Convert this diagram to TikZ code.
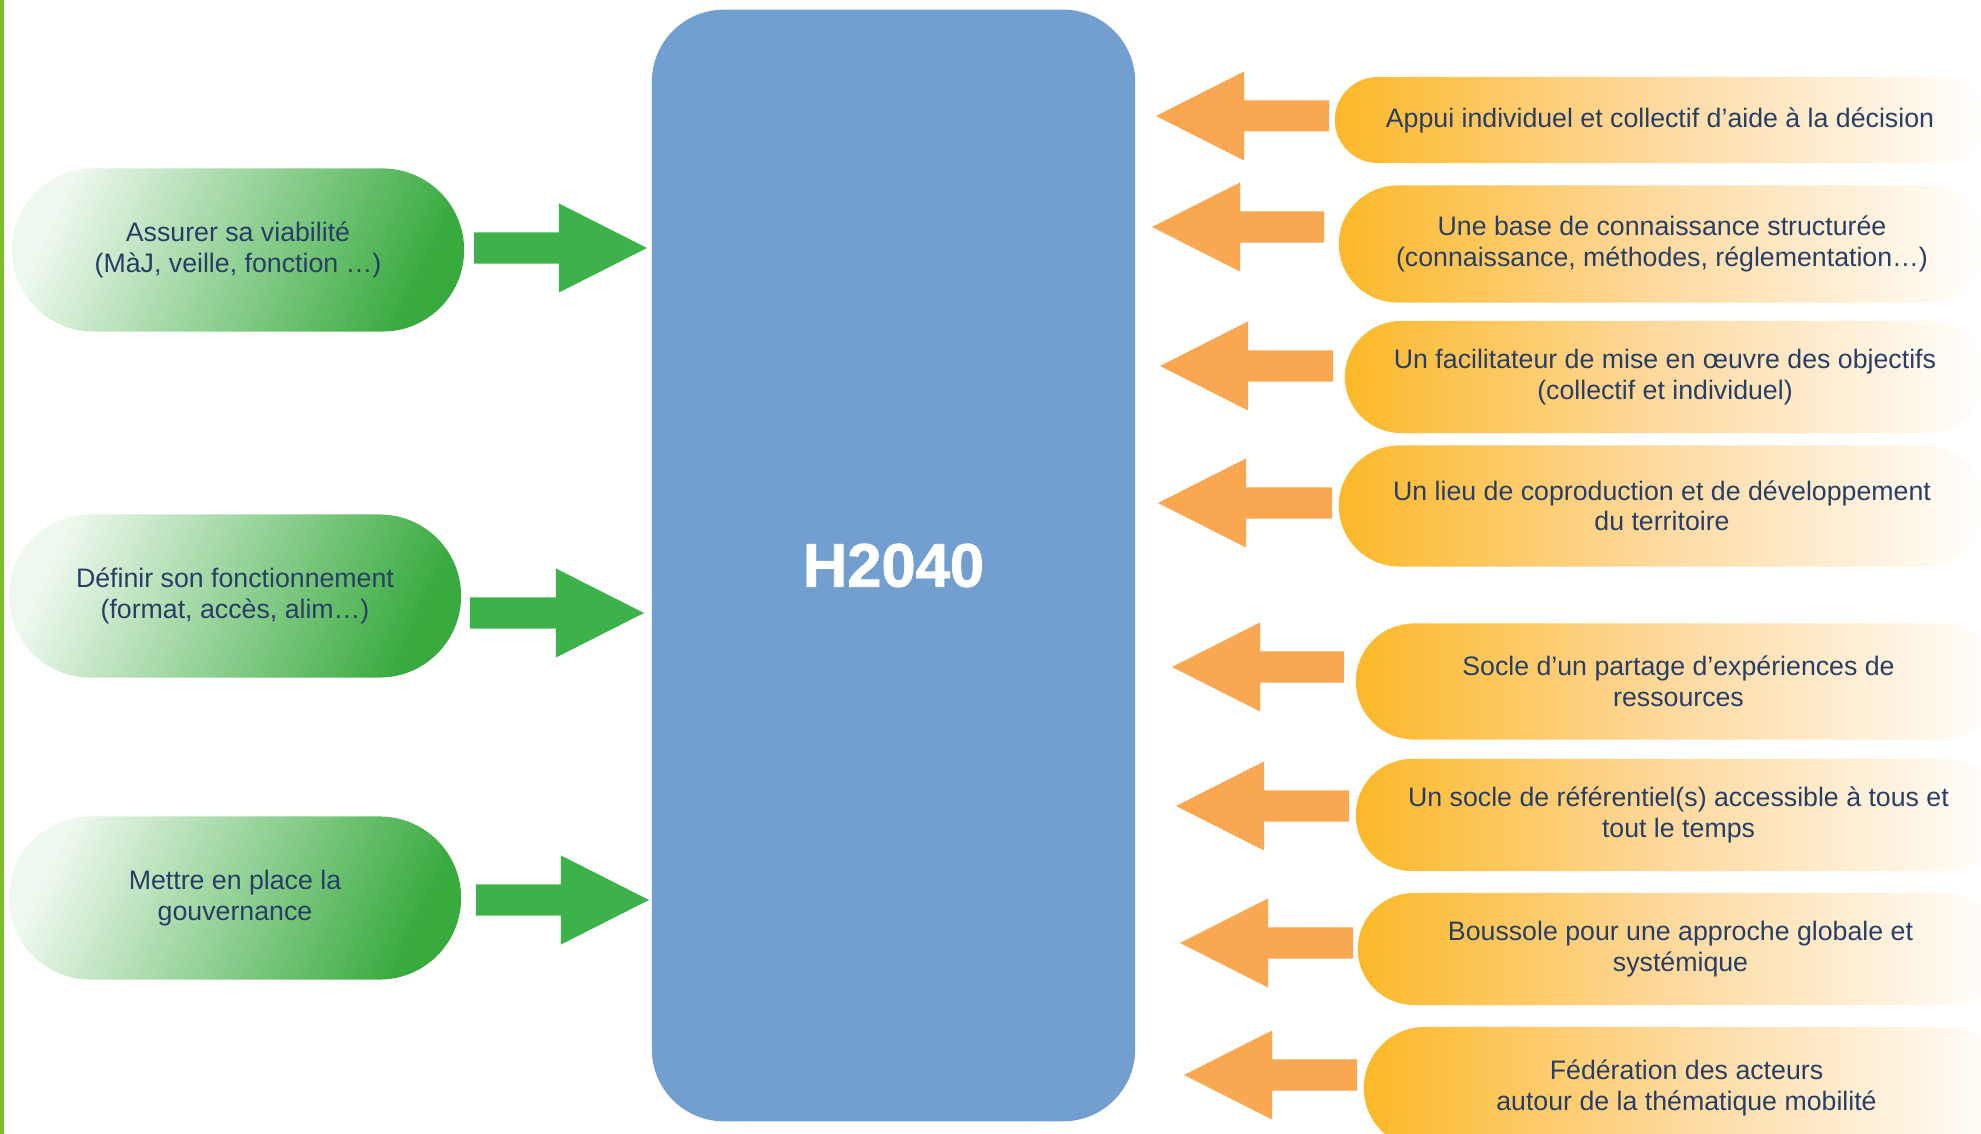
\documentclass[tikz,border=0pt]{standalone}
\usepackage{fontspec}
\setmainfont{Liberation Sans}
\newfontfamily\hubfont[FakeBold=1.3]{Liberation Sans}
\usetikzlibrary{shapes.misc,calc}
\definecolor{hubblue}{RGB}{114,159,207}
\definecolor{grnD}{RGB}{56,170,62}
\definecolor{grnL}{RGB}{238,248,238}
\definecolor{grnA}{RGB}{62,178,74}
\definecolor{orgA}{RGB}{250,167,82}
\definecolor{orgL}{RGB}{252,184,40}
\definecolor{orgM}{RGB}{253,218,160}
\definecolor{txtblue}{RGB}{40,62,100}
\definecolor{edgegreen}{RGB}{124,187,43}
\newlength\arSh \setlength\arSh{0.155cm}
\newlength\arHh \setlength\arHh{0.445cm}
\newlength\arHl \setlength\arHl{0.88cm}
\newcommand\barrow[3]{%
  \fill[#1] let \p1=(#2), \p2=(#3), \n2={\x2-sign(\x2-\x1)*\arHl} in
    (\x1,{\y1+\arSh}) -- ({\n2},{\y1+\arSh}) -- ({\n2},{\y1+\arHh})
    -- (\x2,\y1) -- ({\n2},{\y1-\arHh}) -- ({\n2},{\y1-\arSh})
    -- (\x1,{\y1-\arSh}) -- cycle;}
\begin{document}
\begin{tikzpicture}[x=0.01cm,y=-0.01cm,
  pilltext/.style={font=\fontsize{7.6}{8.7}\selectfont, text=txtblue, align=center},
  greenpill/.style={rounded rectangle, pilltext, inner sep=0pt,
    minimum width=4.52cm, minimum height=1.63cm,
    left color=grnL, right color=grnD, shading angle=65},
  orangepill/.style={rounded rectangle, pilltext, inner sep=0pt,
    left color=orgL, right color=white, middle color=orgM}]
\useasboundingbox (0,0) rectangle (1981,1134);
\clip (0,0) rectangle (1981,1134);
\fill[white] (0,0) rectangle (1981,1134);
\fill[edgegreen] (0,0) rectangle (4,1134);

% central block
\node[fill=hubblue, rounded corners=0.72cm, minimum width=4.83cm, minimum height=11.11cm,
  inner sep=0pt, text=white, font=\hubfont\bfseries\fontsize{17.5}{20}\selectfont] (hub) at (893.5,565.5) {H2040};

% left green pills
\node[greenpill] (g1) at (238,250) {Assurer sa viabilité\\(MàJ, veille, fonction …)};
\node[greenpill] (g2) at (235,596) {Définir son fonctionnement\\(format, accès, alim…)};
\node[greenpill] (g3) at (235,898) {Mettre en place la\\gouvernance};

% right orange pills
\node[orangepill, minimum width=6.50cm, minimum height=0.86cm] (o1) at (1660,120) {Appui individuel et collectif d’aide à la décision};
\node[orangepill, minimum width=6.46cm, minimum height=1.17cm] (o2) at (1662,244) {Une base de connaissance structurée\\(connaissance, méthodes, réglementation…)};
\node[orangepill, minimum width=6.40cm, minimum height=1.12cm] (o3) at (1665,377) {Un facilitateur de mise en œuvre des objectifs\\(collectif et individuel)};
\node[orangepill, minimum width=6.46cm, minimum height=1.21cm] (o4) at (1662,506) {Un lieu de coproduction et de développement\\du territoire};
\node[orangepill, minimum width=6.45cm, minimum height=1.16cm] (o5) at (1678.5,681.5) {Socle d’un partage d’expériences de\\ressources};
\node[orangepill, minimum width=6.45cm, minimum height=1.12cm] (o6) at (1678.5,815) {Un socle de référentiel(s) accessible à tous et\\tout le temps};
\node[orangepill, minimum width=6.45cm, minimum height=1.12cm] (o7) at (1680.5,949) {Boussole pour une approche globale et\\systémique};
\node[orangepill, minimum width=6.45cm, minimum height=1.22cm] (o8) at (1686.5,1088) {Fédération des acteurs\\autour de la thématique mobilité};

% arrow end points
\coordinate (gt1) at (474,248);  \coordinate (gp1) at (647,248);
\coordinate (gt2) at (470,613);  \coordinate (gp2) at (644,613);
\coordinate (gt3) at (476,900);  \coordinate (gp3) at (649,900);
\coordinate (ot1) at (1329,116); \coordinate (op1) at (1156,116);
\coordinate (ot2) at (1324,227); \coordinate (op2) at (1152,227);
\coordinate (ot3) at (1333,366); \coordinate (op3) at (1160,366);
\coordinate (ot4) at (1332,503); \coordinate (op4) at (1158,503);
\coordinate (ot5) at (1344,667); \coordinate (op5) at (1172,667);
\coordinate (ot6) at (1349,806); \coordinate (op6) at (1176,806);
\coordinate (ot7) at (1353,943); \coordinate (op7) at (1180,943);
\coordinate (ot8) at (1357,1075); \coordinate (op8) at (1184,1075);

\barrow{grnA}{gt1}{gp1}
\barrow{grnA}{gt2}{gp2}
\barrow{grnA}{gt3}{gp3}
\barrow{orgA}{ot1}{op1}
\barrow{orgA}{ot2}{op2}
\barrow{orgA}{ot3}{op3}
\barrow{orgA}{ot4}{op4}
\barrow{orgA}{ot5}{op5}
\barrow{orgA}{ot6}{op6}
\barrow{orgA}{ot7}{op7}
\barrow{orgA}{ot8}{op8}
\end{tikzpicture}
\end{document}
